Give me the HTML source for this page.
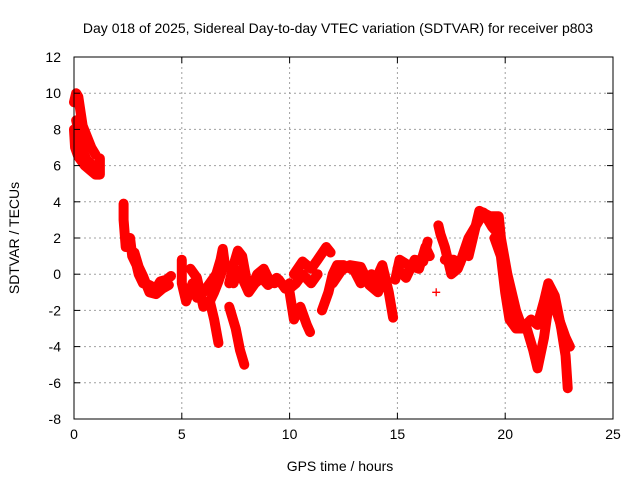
<!DOCTYPE html>
<html><head><meta charset="utf-8"><style>
body{margin:0;background:#fff}
svg{font-family:"Liberation Sans",sans-serif;font-size:14px}
</style></head><body>
<svg id="chart" width="640" height="480" viewBox="0 0 640 480">
<rect width="640" height="480" fill="#fff"/>
<g id="grid"></g>
<g id="marks"></g>
<g id="axes"></g>
<text x="338" y="33" text-anchor="middle">Day 018 of 2025, Sidereal Day-to-day VTEC variation (SDTVAR) for receiver p803</text>
<text x="340" y="471" text-anchor="middle">GPS time / hours</text>
<text transform="translate(19,238) rotate(-90)" text-anchor="middle">SDTVAR / TECUs</text>
</svg>
<script>
const xTicks=[0,5,10,15,20,25];
const yTicks=[-8,-6,-4,-2,0,2,4,6,8,10,12];
const seg1=[[0,9.5],[0.1,10],[0.2,9.8],[0.3,9],[0.4,8.2],[0.6,7.6],[0.8,7],[1.0,6.6]];
const seg2=[[0,8],[0.05,7],[0.2,6.5],[0.5,6],[0.8,5.7],[1.0,5.5],[1.2,5.5],[1.2,6.4]];
const seg2b=[[0.1,8.5],[0.3,7.5],[0.4,6.8],[0.6,6.3],[0.9,6.0]];
const seg3=[[2.3,3.9],[2.3,3.0],[2.4,1.5],[2.6,2.0],[2.7,1.0],[2.9,0.5],[3.0,0],[3.2,-0.5],[3.5,-0.6],[3.8,-0.8],[4.0,-0.4],[4.3,-0.3],[4.5,-0.1]];
const seg3b=[[2.8,1.2],[3.0,0.4],[3.2,-0.1],[3.5,-1.0],[3.8,-1.1],[4.1,-0.8],[4.4,-0.6]];
const seg4=[[5.0,0.8],[5.0,-0.5],[5.2,-1.5],[5.5,-0.5],[5.7,-1.3],[6.0,-1.0],[6.3,-0.5],[6.6,0],[6.8,0.8],[6.9,1.4],[7.0,0.5]];
const seg4b=[[5.4,0.3],[5.7,-0.2],[6.0,-1.8],[6.3,-1.5],[6.5,-1.0],[6.7,-0.4],[6.9,0.3]];
const seg5=[[6.3,-1.5],[6.5,-2.5],[6.7,-3.8]];
const seg6=[[7.2,-1.8],[7.5,-3],[7.7,-4.2],[7.9,-5.0]];
const seg7=[[7.2,-0.5],[7.4,0.5],[7.6,1.3],[7.8,1.0],[8.0,-0.3],[8.2,-0.8],[8.5,0],[8.8,0.3],[9.0,-0.2],[9.3,-0.5],[9.5,-0.3],[9.8,-0.8],[10.0,-0.5]];
const seg7b=[[7.4,-0.5],[7.6,0.2],[7.8,-0.2],[8.1,-1.0],[8.4,-0.5],[8.7,-0.2],[9.0,-0.6],[9.4,-0.2]];
const seg8=[[10.0,-1.0],[10.2,-2.5],[10.5,-1.8],[10.8,-2.8],[10.95,-3.2]];
const seg9=[[10.2,0],[10.6,0.7],[11.0,0.3],[11.3,0.8],[11.7,1.5],[11.9,1.2]];
const seg9b=[[10.0,-0.8],[10.3,-0.5],[10.6,0],[11.0,-0.5],[11.3,0]];
const seg10=[[11.5,-2],[11.8,-1],[12.0,0],[12.2,0.5],[12.5,0.5],[13,0.2],[13.3,-0.5],[13.8,0],[14,-0.3],[14.3,0.5],[14.6,-1],[14.8,-2.4]];
const seg10b=[[12.0,-0.5],[12.4,0.2],[12.8,0.5],[13.3,0.4],[13.7,-0.6],[14.1,-1.0],[14.4,0]];
const seg11=[[14.9,-0.3],[15.1,0.8],[15.5,0.5],[16,0.3],[16.3,1.5],[16.5,1.0]];
const seg11b=[[15.0,0.3],[15.4,-0.2],[15.8,0.8],[16.2,0.7],[16.4,1.8]];
const seg12=[[16.9,2.7],[17.0,2.2],[17.2,1.5],[17.5,0],[17.8,0.3],[18.1,1.2],[18.3,1],[18.6,2.5],[18.8,3.5],[19.3,3.2],[19.7,3.2],[19.8,2],[20.1,0],[20.3,-1],[20.5,-2],[20.8,-3],[21.2,-2.5],[21.5,-2.8],[21.8,-1.5],[22.0,-0.5],[22.3,-1.2],[22.6,-3],[22.8,-4.5],[22.9,-6.3]];
const seg12b=[[17.2,0.8],[17.6,0.8],[17.9,0.6],[18.3,2.0],[18.7,2.8],[19.0,3.4],[19.4,2.6],[19.7,2.2]];
const seg13=[[19.5,2],[19.8,1],[20.0,-1],[20.2,-2.5],[20.5,-3],[21.0,-3],[21.3,-4.2],[21.5,-5.2],[21.8,-3.5],[22.1,-1],[22.5,-2.5],[22.8,-3.5],[23.0,-4]];
const outliers=[[16.8,-1.0]];
const series=[seg1,seg2,seg2b,seg3,seg3b,seg4,seg4b,seg5,seg6,seg7,seg7b,seg8,seg9,seg9b,seg10,seg10b,seg11,seg11b,seg12,seg12b,seg13];
const L=74,R=613,T=57,B=419;
const xs=v=>L+(v-0)/25*(R-L);
const ys=v=>B-(v+8)/20*(B-T);
const NS='http://www.w3.org/2000/svg';
function mk(tag,attrs,parent){const e=document.createElementNS(NS,tag);for(const k in attrs)e.setAttribute(k,attrs[k]);parent.appendChild(e);return e;}
const grid=document.getElementById('grid'),axes=document.getElementById('axes'),marks=document.getElementById('marks');
xTicks.forEach(t=>{const x=xs(t);
 if(t>0&&t<25){const g=mk('line',{x1:x,x2:x,y1:T,y2:B,stroke:'#a0a0a0','stroke-dasharray':'2,3'},grid);
 
 }
 const tx=mk('text',{x:x,y:B+20,'text-anchor':'middle'},axes);tx.textContent=t;
 
 
 mk('line',{x1:x,x2:x,y1:B,y2:B-6,stroke:'#000'},axes);mk('line',{x1:x,x2:x,y1:T,y2:T+6,stroke:'#000'},axes);
});
yTicks.forEach(t=>{const y=ys(t);
 if(t>-8&&t<12){const g=mk('line',{x1:L,x2:R,y1:y,y2:y,stroke:'#a0a0a0','stroke-dasharray':'2,3'},grid);
 
 }
 const tx=mk('text',{x:L-13,y:y+5,'text-anchor':'end'},axes);tx.textContent=t;
 
 
 mk('line',{x1:L,x2:L+6,y1:y,y2:y,stroke:'#000'},axes);mk('line',{x1:R,x2:R-6,y1:y,y2:y,stroke:'#000'},axes);
});
const fr=mk('rect',{x:L,y:T,width:R-L,height:B-T,fill:'none',stroke:'#000'},axes);


function plus(p,parent){const x=xs(p[0]),y=ys(p[1]);
 const g=mk('path',{d:`M${x-4},${y}H${x+4}M${x},${y-4}V${y+4}`,stroke:'#f00','stroke-width':1.3,fill:'none'},parent);
 
 }
series.forEach(s=>{
 const pl=mk('polyline',{points:s.map(p=>xs(p[0])+','+ys(p[1])).join(' '),fill:'none',stroke:'#f00','stroke-width':10,'stroke-linejoin':'round','stroke-linecap':'round'},marks);
 
 
 s.forEach(p=>plus(p,marks));
});
outliers.forEach(p=>plus(p,marks));
</script>
</body></html>
